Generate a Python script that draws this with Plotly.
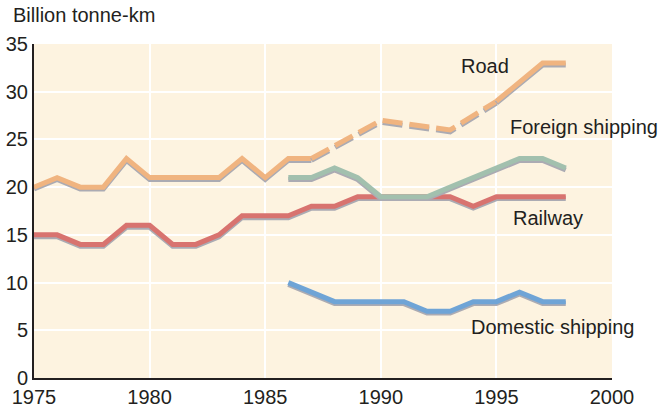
import plotly.graph_objects as go

years_road_a = [1975, 1976, 1977, 1978, 1979, 1980, 1981, 1982, 1983, 1984, 1985, 1986, 1987]
road_a = [20, 21, 20, 20, 23, 21, 21, 21, 21, 23, 21, 23, 23]
years_road_b = [1987, 1990, 1993, 1995]
road_b = [23, 27, 26, 29]
years_road_c = [1995, 1996, 1997, 1998]
road_c = [29, 31, 33, 33]

years_foreign = [1986, 1987, 1988, 1989, 1990, 1991, 1992, 1993, 1994, 1995, 1996, 1997, 1998]
foreign = [21, 21, 22, 21, 19, 19, 19, 20, 21, 22, 23, 23, 22]

years_rail = list(range(1975, 1999))
rail = [15, 15, 14, 14, 16, 16, 14, 14, 15, 17, 17, 17, 18, 18, 19, 19, 19, 19, 19, 18, 19, 19, 19, 19]

years_dom = [1986, 1987, 1988, 1989, 1990, 1991, 1992, 1993, 1994, 1995, 1996, 1997, 1998]
domestic = [10, 9, 8, 8, 8, 8, 7, 7, 8, 8, 9, 8, 8]

labels = ["Road", "Foreign shipping", "Railway", "Domestic shipping"]
x_ticks = [1975, 1980, 1985, 1990, 1995, 2000]
y_ticks = [0, 5, 10, 15, 20, 25, 30, 35]

SHADOW = "#ABABB3"
SH = 0.2
W = 5

series = [
    (years_dom, domestic, "#6FA4D6", "solid"),
    (years_rail, rail, "#D8736F", "solid"),
    (years_foreign, foreign, "#A2C0AE", "solid"),
    (years_road_a, road_a, "#F0B480", "solid"),
    (years_road_b, road_b, "#F0B480", "20px,7px"),
    (years_road_c, road_c, "#F0B480", "solid"),
]

fig = go.Figure()
for xs, ys, col, dash in series:
    fig.add_trace(go.Scatter(x=xs, y=[v - SH for v in ys], mode="lines",
                             line=dict(color=SHADOW, width=W, dash=dash),
                             hoverinfo="skip", showlegend=False))
    fig.add_trace(go.Scatter(x=xs, y=ys, mode="lines",
                             line=dict(color=col, width=W, dash=dash),
                             showlegend=False))

font = "Liberation Sans, Arial, sans-serif"
FS = 20
ann = [
    dict(x=1993.4, y=32.7, text=labels[0]),
    dict(x=1995.5, y=26.3, text=labels[1]),
    dict(x=1995.65, y=16.8, text=labels[2]),
    dict(x=1993.8, y=5.35, text=labels[3]),
]
for a in ann:
    fig.add_annotation(x=a["x"], y=a["y"], text=a["text"], xanchor="left",
                       yanchor="middle", showarrow=False,
                       font=dict(family=font, size=FS, color="#231F20"))

fig.add_annotation(x=0, y=1.087, xref="paper", yref="paper", text="Billion tonne-km",
                   xanchor="left", yanchor="middle", xshift=-23, showarrow=False,
                   font=dict(family=font, size=FS, color="#231F20"))

fig.update_layout(
    width=667, height=407,
    margin=dict(l=34, r=55, t=44, b=29, autoexpand=False),
    paper_bgcolor="white",
    plot_bgcolor="#FDF3E0",
    font=dict(family=font, size=FS, color="#231F20"),
    xaxis=dict(range=[1975, 2000], tickvals=x_ticks, showgrid=True, gridcolor="white",
               gridwidth=2, zeroline=False, showline=True, linecolor="#231F20", linewidth=2,
               ticks="", tickfont=dict(size=FS), automargin=False),
    yaxis=dict(range=[0, 35], tickvals=y_ticks, showgrid=True, gridcolor="white",
               gridwidth=2, zeroline=False, showline=True, linecolor="#231F20", linewidth=2,
               ticks="", tickfont=dict(size=FS), automargin=False),
)

fig.write_html("out.html", config={"displayModeBar": False},
               post_script="document.body.style.margin='0';document.body.style.overflow='hidden';")
